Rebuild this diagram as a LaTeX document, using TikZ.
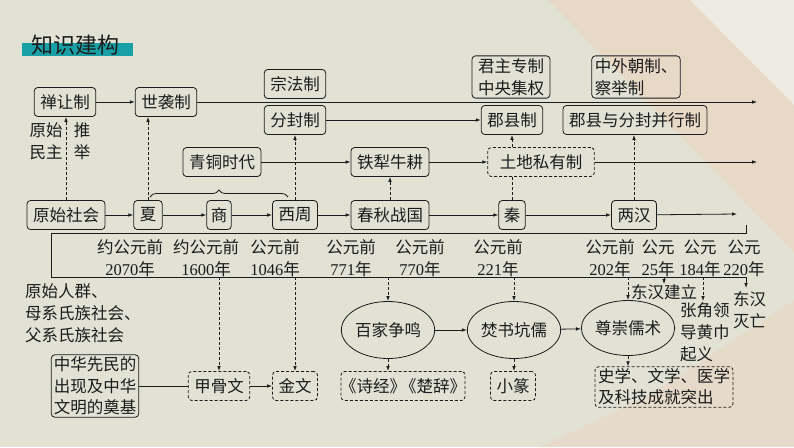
\documentclass[tikz,border=0pt]{standalone}
\usepackage{fontspec}
\newfontfamily\cjk{Noto Sans CJK SC}
\newfontfamily\lat{Liberation Serif}
\usetikzlibrary{arrows.meta,shapes.geometric,decorations.pathreplacing}
\definecolor{bgc}{RGB}{225,225,212}
\definecolor{peach}{RGB}{236,212,190}
\definecolor{teal1}{RGB}{24,160,166}
\definecolor{ink}{RGB}{28,28,28}
\tikzset{
 txt/.style={font=\cjk\fontsize{16.5}{22}\selectfont, text=ink},
 box/.style={txt, draw=ink, line width=0.8pt, rounded corners=3.5pt, inner xsep=6pt, inner ysep=0pt, minimum height=29pt},
 dbox/.style={box, dash pattern=on 3pt off 2pt},
 ell/.style={txt, draw=ink, line width=0.8pt, ellipse, minimum width=82pt, minimum height=57pt, inner sep=0pt},
 plain/.style={txt, inner sep=0pt, align=left},
 yr/.style={txt, inner sep=0pt, align=center},
 arr/.style={-{Latex[length=5pt,width=3.6pt]}, line width=0.8pt, draw=ink},
 darr/.style={arr, dash pattern=on 3pt off 2pt},
 ln/.style={line width=0.8pt, draw=ink},
}
\begin{document}
\begin{tikzpicture}[x=1pt,y=-1pt]
\path[use as bounding box] (0,0) rectangle (794,447);
% background
\fill[bgc] (0,0) rectangle (794,447);
\fill[peach!60!bgc] (548,0) -- (794,0) -- (794,252) -- cycle;
\fill[bgc!65!white] (690,0) -- (794,0) -- (794,105) -- cycle;
\fill[peach!45!bgc] (540,447) -- (650,395) -- (794,300) -- (794,447) -- cycle;
% title
\fill[teal1] (22,43) rectangle (133,56);
\node[font=\cjk\fontsize{22}{22}\selectfont, text=ink, anchor=west, inner sep=0pt] (title) at (31,45) {知识建构};

% upper boxes
\node[box] (chanrang) at (65,102) {禅让制};
\node[box] (shixi) at (166,102) {世袭制};
\node[box] (zongfa) at (295,84) {宗法制};
\node[box] (fenfeng) at (295,120) {分封制};
\node[box, align=center, inner ysep=2.5pt] (junzhu) at (511,77) {君主专制\\中央集权};
\node[box, align=left, inner xsep=3pt, inner ysep=2.5pt] (zhongwai) at (636,77) {中外朝制、\\察举制};
\node[box] (junxian) at (512,120) {郡县制};
\node[box] (jxyf) at (635,120) {郡县与分封并行制};
\node[box] (qingtong) at (222,162) {青铜时代};
\node[box] (tieli) at (390,162) {铁犁牛耕};
\node[dbox, inner xsep=12pt] (tudi) at (541,162) {土地私有制};

% timeline boxes
\node[box] (yuanshi) at (66,215) {原始社会};
\node[box] (xia) at (148,215) {夏};
\node[box, inner xsep=4pt] (shang) at (219,215) {商};
\node[box] (xizhou) at (295,215) {西周};
\node[box] (chunqiu) at (390,215) {春秋战国};
\node[box, inner xsep=5pt] (qin) at (512,215) {秦};
\node[box] (lianghan) at (634,215) {两汉};

\coordinate (endA) at (757,102);
\coordinate (endD) at (757,162);
\coordinate (endE) at (737,214);

% side labels
\node[yr] (yuanshiminzhu) at (46,141) {原始\\民主};
\node[yr] (tuiju) at (82,141) {推\\举};

% brace
\coordinate (brL) at (150,197);
\coordinate (brR) at (288,197);
\draw[ln, decorate, decoration={brace, amplitude=7pt}] (brL) -- (brR);

% horizontal connectors
\draw[arr] (chanrang) -- (shixi);
\draw[arr] (shixi.east) -- (endA);
\draw[arr] (fenfeng) -- (junxian);
\draw[arr] (qingtong) -- (tieli);
\draw[arr] (tieli) -- (tudi);
\draw[arr] (tudi) -- (endD);
\draw[arr] (yuanshi) -- (xia);
\draw[arr] (xia) -- (shang);
\draw[arr] (shang) -- (xizhou);
\draw[arr] (xizhou) -- (chunqiu);
\draw[arr] (chunqiu) -- (qin);
\draw[arr] (qin) -- (lianghan);
\draw[arr] (lianghan) -- (endE);

% vertical dashed connectors
\draw[darr] (yuanshi.north) -- (yuanshi.north |- chanrang.south);
\draw[darr] (xia.north) -- (xia.north |- shixi.south);
\draw[darr] (xizhou.north) -- (xizhou.north |- fenfeng.south);
\draw[darr] (chunqiu.north) -- (chunqiu.north |- tieli.south);
\draw[ln, dash pattern=on 3pt off 2pt] (qin.north) -- (qin.north |- tudi.south);
\draw[darr] (qin.north |- tudi.north) -- (qin.north |- junxian.south);
\draw[darr] (lianghan.north) -- (lianghan.north |- jxyf.south);

% date bracket
\coordinate (b1) at (746,225);
\coordinate (b2) at (746,233);
\coordinate (b3) at (51,233);
\coordinate (bl) at (51,277);
\coordinate (b4) at (746,277);
\draw[ln] (b1) -- (b2) -- (b3) -- (bl) -- (b4);

% dates
\node[yr] (d1) at (130,258) {约公元前\\{\lat 2070}年};
\node[yr] (d2) at (206,258) {约公元前\\{\lat 1600}年};
\node[yr] (d3) at (275,258) {公元前\\{\lat 1046}年};
\node[yr] (d4) at (351,258) {公元前\\{\lat 771}年};
\node[yr] (d5) at (420,258) {公元前\\{\lat 770}年};
\node[yr] (d6) at (498,258) {公元前\\{\lat 221}年};
\node[yr] (d7) at (610,258) {公元前\\{\lat 202}年};
\node[yr] (d8) at (658,258) {公元\\{\lat 25}年};
\node[yr] (d9) at (700,258) {公元\\{\lat 184}年};
\node[yr] (d10) at (744,258) {公元\\{\lat 220}年};

% lower part
\node[plain, anchor=north west] (yuanshiren) at (25,283) {原始人群、\\母系氏族社会、\\父系氏族社会};
\node[box, align=center, inner xsep=2.5pt, inner ysep=2pt, font=\cjk\fontsize{16.5}{21.5}\selectfont] (zhonghua) at (95,386) {中华先民的\\出现及中华\\文明的奠基};
\node[dbox] (jiagu) at (219,386) {甲骨文};
\node[dbox] (jinwen) at (295,386) {金文};
\node[ell] (baijia) at (388,330) {百家争鸣};
\node[ell] (fenshu) at (514,330) {焚书坑儒};
\node[ell, minimum width=80pt, minimum height=55pt] (zunchong) at (628,328) {尊崇儒术};
\node[dbox, inner xsep=3pt] (shijing) at (403,386) {\kern-4pt《诗经》\kern-6pt《楚辞》\kern-4pt};
\node[dbox] (xiaozhuan) at (513,386) {小篆};
\node[dbox, align=left, inner xsep=3pt, inner ysep=2pt, font=\cjk\fontsize{16.5}{21}\selectfont] (shixue) at (664,387) {史学、文学、医学\\及科技成就突出};
\node[plain] (dhjl) at (664,292) {东汉建立};
\node[plain, anchor=north west] (zhangjiao) at (680,302) {张角领\\导黄巾\\起义};
\node[plain, anchor=north west] (dhmw) at (733,291) {东汉\\灭亡};
\coordinate (zj) at (703,301);

\draw[ln] (zhonghua) -- (jiagu);
\draw[arr] (jiagu) -- (jinwen);
\draw[arr] (baijia) -- (fenshu);
\draw[arr] (fenshu) -- (zunchong);
\draw[darr] (baijia.south) -- (baijia.south |- shijing.north);
\draw[darr] (fenshu.south) -- (fenshu.south |- xiaozhuan.north);
\draw[darr] (zunchong.south) -- (zunchong.south |- shixue.north);

\draw[darr] (jiagu.north |- bl) -- (jiagu.north);
\draw[darr] (jinwen.north |- bl) -- (jinwen.north);
\draw[darr] (baijia.north |- bl) -- (baijia.north);
\draw[darr] (fenshu.north |- bl) -- (fenshu.north);
\draw[darr] (zunchong.north |- bl) -- (zunchong.north);
\draw[arr] (dhjl.north |- bl) -- (dhjl.north);
\draw[darr] (zj |- bl) -- (zj);
\draw[arr] (b4) -- ([yshift=3pt]b4 |- dhmw.north);
\end{tikzpicture}
\end{document}
